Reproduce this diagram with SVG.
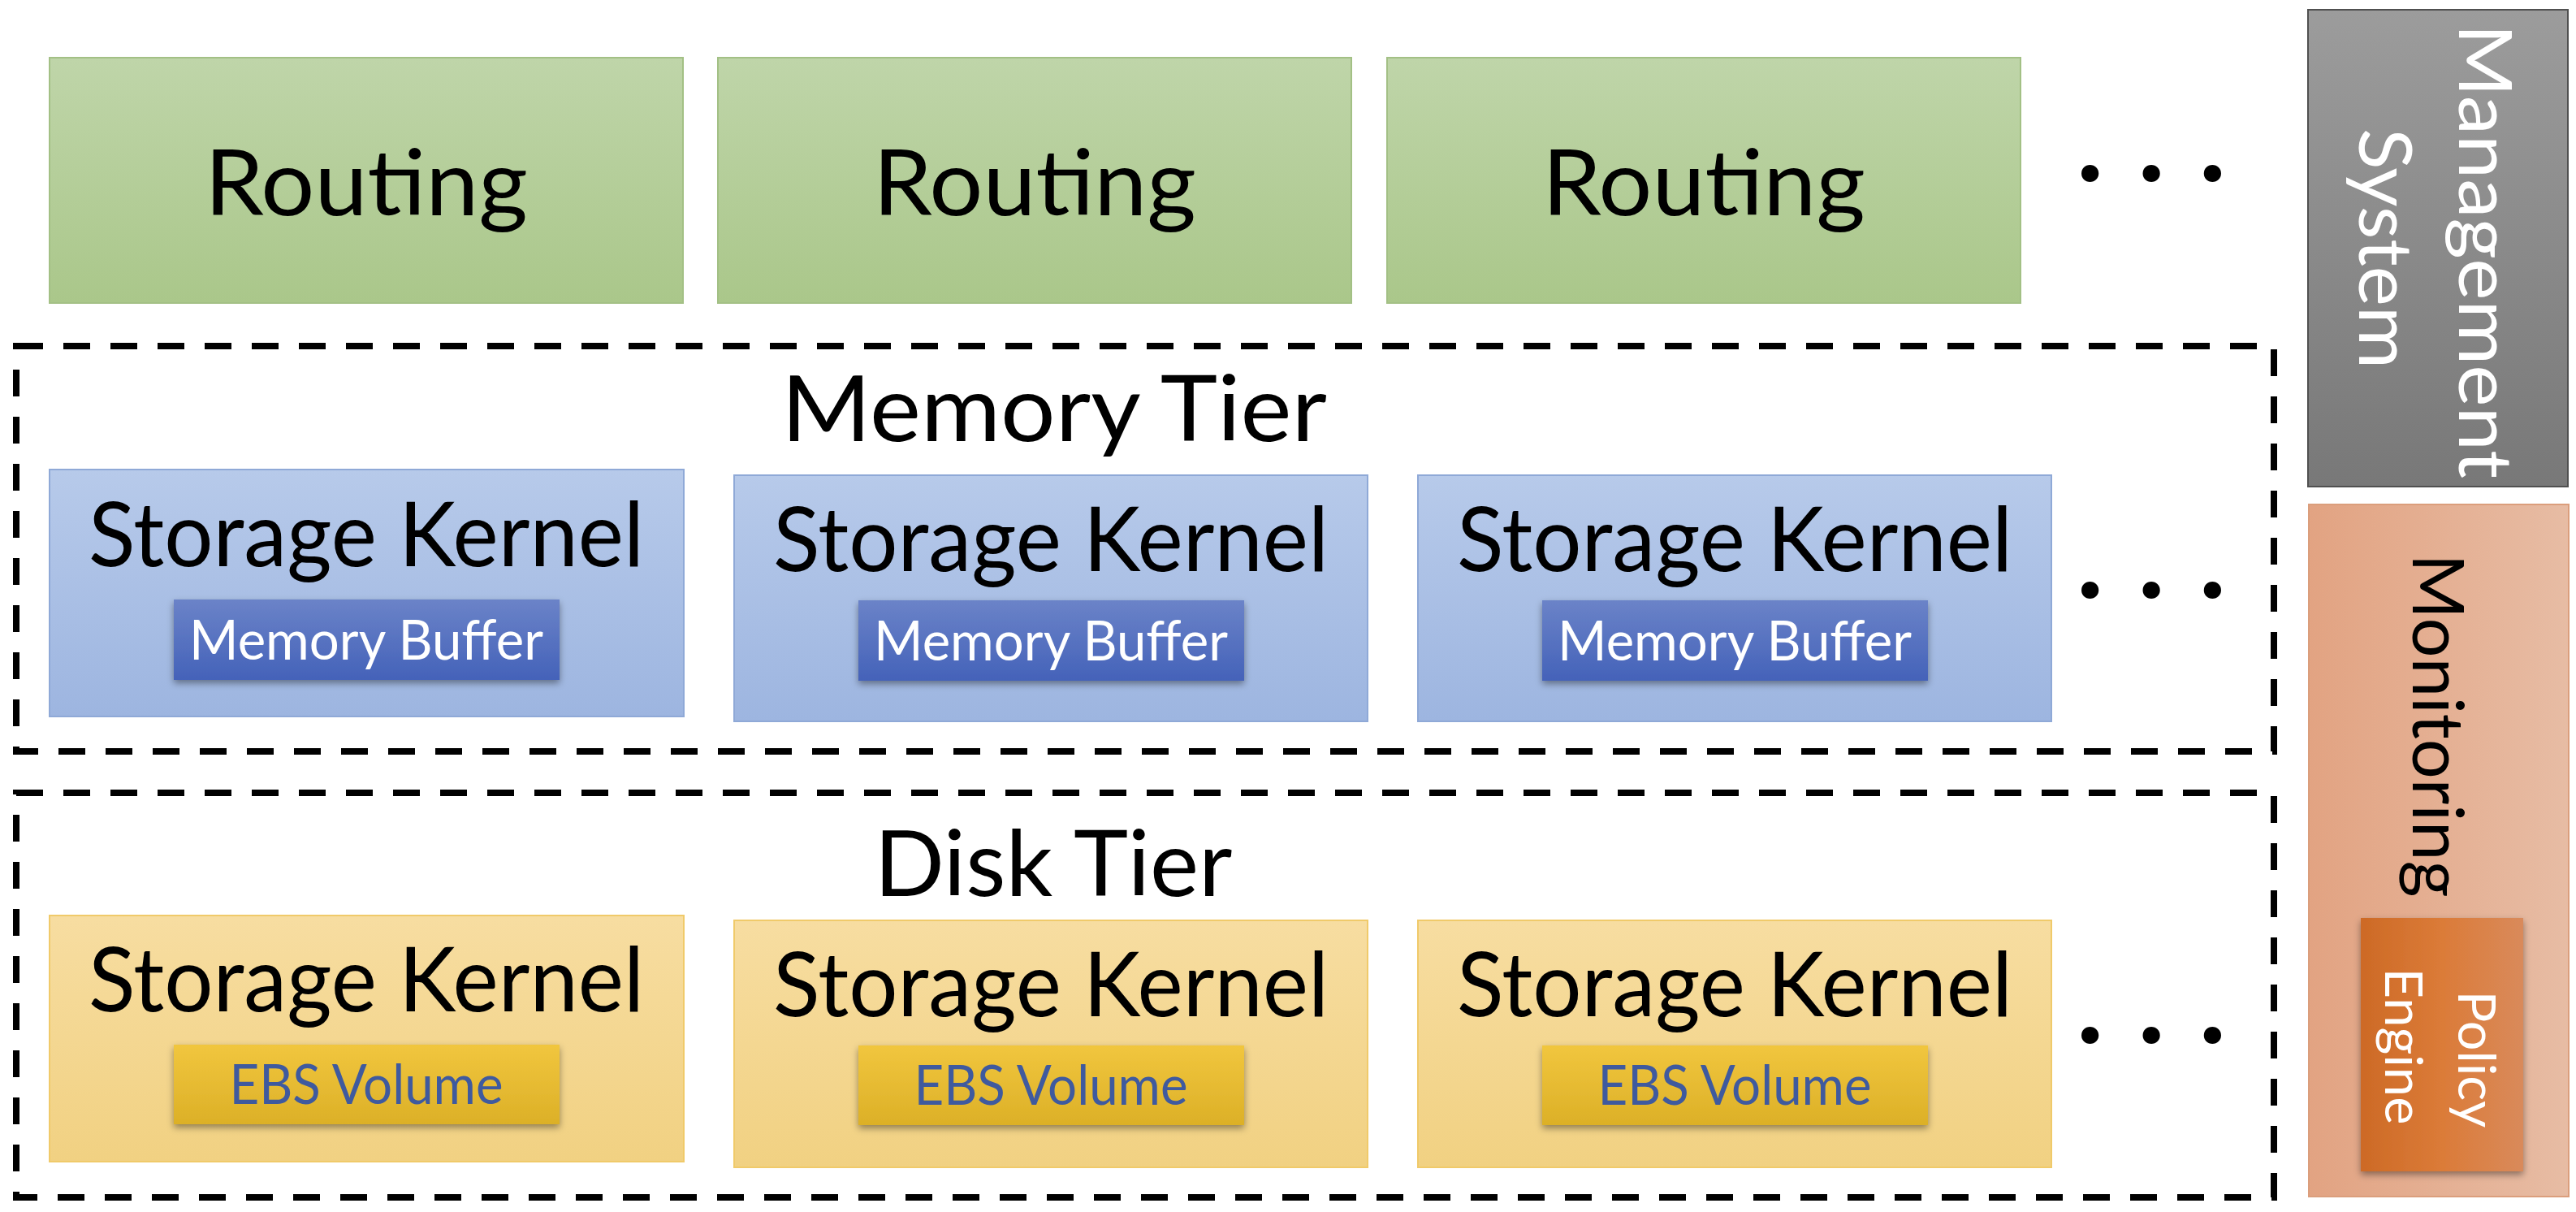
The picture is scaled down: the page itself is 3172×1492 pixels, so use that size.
<svg xmlns="http://www.w3.org/2000/svg" width="3172" height="1492" viewBox="0 0 3172 1492">
<defs>
<linearGradient id="gGreen" x1="0" y1="0" x2="0" y2="1"><stop offset="0" stop-color="#BFD5A9"/><stop offset="1" stop-color="#AAC78A"/></linearGradient>
<linearGradient id="gBlue" x1="0" y1="0" x2="0" y2="1"><stop offset="0" stop-color="#B7CAEA"/><stop offset="1" stop-color="#9DB5E0"/></linearGradient>
<linearGradient id="gBuf" x1="0" y1="0" x2="0" y2="1"><stop offset="0" stop-color="#6B83C8"/><stop offset="1" stop-color="#4462B9"/></linearGradient>
<linearGradient id="gYel" x1="0" y1="0" x2="0" y2="1"><stop offset="0" stop-color="#F7DDA1"/><stop offset="1" stop-color="#F1D182"/></linearGradient>
<linearGradient id="gEbs" x1="0" y1="0" x2="0" y2="1"><stop offset="0" stop-color="#F1C63E"/><stop offset="1" stop-color="#DCB027"/></linearGradient>
<linearGradient id="gGray" x1="0" y1="0" x2="0" y2="1"><stop offset="0" stop-color="#9C9C9C"/><stop offset="1" stop-color="#787878"/></linearGradient>
<linearGradient id="gMon" x1="0" y1="0" x2="1" y2="0"><stop offset="0" stop-color="#E2A382"/><stop offset="1" stop-color="#E7BCA4"/></linearGradient>
<linearGradient id="gPol" x1="0" y1="0" x2="1" y2="0"><stop offset="0" stop-color="#CD6A26"/><stop offset="0.5" stop-color="#DB7B38"/><stop offset="1" stop-color="#D98A5B"/></linearGradient>
<filter id="shadow" x="-10%" y="-10%" width="120%" height="130%"><feDropShadow dx="0" dy="4" stdDeviation="4" flood-color="#000" flood-opacity="0.4"/></filter>
<style>
.t{font-family:Lato,"Open Sans","Liberation Sans",sans-serif;}
.big{font-size:113px;fill:#000;text-anchor:middle;}
.sk{font-size:110px;fill:#000;text-anchor:middle;}
.small{font-size:68px;text-anchor:middle;}
.route{fill:url(#gGreen);stroke:#A3C085;stroke-width:2;}
.mk{fill:url(#gBlue);stroke:#8FA9D7;stroke-width:2;}
.dk{fill:url(#gYel);stroke:#F0CA6A;stroke-width:2;}
.buf{fill:url(#gBuf);filter:url(#shadow);}
.ebs{fill:url(#gEbs);filter:url(#shadow);}
.tier{fill:none;stroke:#000;stroke-width:8;stroke-dasharray:33 25;}
.dots{font-size:140px;font-weight:bold;fill:#000;text-anchor:middle;}
</style>
</defs>
<rect width="3172" height="1492" fill="#FFFFFF"/>

<g id="routing-1"><rect class="route" x="61" y="71" width="780" height="302"/><text class="t big" x="451" y="265" textLength="398" lengthAdjust="spacingAndGlyphs">Routing</text></g>
<g id="routing-2"><rect class="route" x="884" y="71" width="780" height="302"/><text class="t big" x="1274" y="265" textLength="398" lengthAdjust="spacingAndGlyphs">Routing</text></g>
<g id="routing-3"><rect class="route" x="1708" y="71" width="780" height="302"/><text class="t big" x="2098" y="265" textLength="398" lengthAdjust="spacingAndGlyphs">Routing</text></g>
<g id="routing-more"><text class="t dots" x="2649" y="223" textLength="184" lengthAdjust="spacing">...</text></g>

<g id="memory-tier">
<rect class="tier" x="20" y="426" width="2780" height="499"/>
<text class="t big" x="1298" y="543" textLength="672" lengthAdjust="spacingAndGlyphs">Memory Tier</text>
</g>
<g id="mem-kernel-1"><rect class="mk" x="61" y="578" width="781" height="304"/><text class="t sk" x="451" y="697" textLength="684" lengthAdjust="spacingAndGlyphs">Storage Kernel</text><rect class="buf" x="214" y="738" width="475" height="99"/><text class="t small" x="451" y="812" fill="#FFFFFF" textLength="436" lengthAdjust="spacingAndGlyphs">Memory Buffer</text></g>
<g id="mem-kernel-2"><rect class="mk" x="904" y="585" width="780" height="303"/><text class="t sk" x="1294" y="703" textLength="684" lengthAdjust="spacingAndGlyphs">Storage Kernel</text><rect class="buf" x="1057" y="739" width="475" height="99"/><text class="t small" x="1294" y="813" fill="#FFFFFF" textLength="436" lengthAdjust="spacingAndGlyphs">Memory Buffer</text></g>
<g id="mem-kernel-3"><rect class="mk" x="1746" y="585" width="780" height="303"/><text class="t sk" x="2136" y="703" textLength="684" lengthAdjust="spacingAndGlyphs">Storage Kernel</text><rect class="buf" x="1899" y="739" width="475" height="99"/><text class="t small" x="2136" y="813" fill="#FFFFFF" textLength="436" lengthAdjust="spacingAndGlyphs">Memory Buffer</text></g>
<g id="mem-more"><text class="t dots" x="2649" y="736" textLength="184" lengthAdjust="spacing">...</text></g>

<g id="disk-tier">
<rect class="tier" x="20" y="976" width="2780" height="498"/>
<text class="t big" x="1297" y="1103" textLength="441" lengthAdjust="spacingAndGlyphs">Disk Tier</text>
</g>
<g id="disk-kernel-1"><rect class="dk" x="61" y="1127" width="781" height="303"/><text class="t sk" x="451" y="1245" textLength="684" lengthAdjust="spacingAndGlyphs">Storage Kernel</text><rect class="ebs" x="214" y="1286" width="475" height="98"/><text class="t small" x="451" y="1359" fill="#3F5A9E" textLength="337" lengthAdjust="spacingAndGlyphs">EBS Volume</text></g>
<g id="disk-kernel-2"><rect class="dk" x="904" y="1133" width="780" height="304"/><text class="t sk" x="1294" y="1251" textLength="684" lengthAdjust="spacingAndGlyphs">Storage Kernel</text><rect class="ebs" x="1057" y="1287" width="475" height="98"/><text class="t small" x="1294" y="1360" fill="#3F5A9E" textLength="337" lengthAdjust="spacingAndGlyphs">EBS Volume</text></g>
<g id="disk-kernel-3"><rect class="dk" x="1746" y="1133" width="780" height="304"/><text class="t sk" x="2136" y="1251" textLength="684" lengthAdjust="spacingAndGlyphs">Storage Kernel</text><rect class="ebs" x="1899" y="1287" width="475" height="98"/><text class="t small" x="2136" y="1360" fill="#3F5A9E" textLength="337" lengthAdjust="spacingAndGlyphs">EBS Volume</text></g>
<g id="disk-more"><text class="t dots" x="2649" y="1284" textLength="184" lengthAdjust="spacing">...</text></g>

<g id="management-system">
<rect x="2842" y="12" width="320" height="587" fill="url(#gGray)" stroke="#505050" stroke-width="2"/>
<text class="t" transform="translate(3028,309) rotate(90)" x="0" y="0" font-size="92" fill="#FFFFFF" text-anchor="middle" textLength="560" lengthAdjust="spacingAndGlyphs">Management</text>
<text class="t" transform="translate(2905,306) rotate(90)" x="0" y="0" font-size="92" fill="#FFFFFF" text-anchor="middle" textLength="296" lengthAdjust="spacingAndGlyphs">System</text>
</g>
<g id="monitoring">
<rect x="2843" y="621" width="320" height="852" fill="url(#gMon)" stroke="#DB9E7C" stroke-width="2"/>
<text class="t" transform="translate(2971,893) rotate(90)" x="0" y="0" font-size="87" fill="#000000" text-anchor="middle" textLength="423" lengthAdjust="spacingAndGlyphs">Monitoring</text>
</g>
<g id="policy-engine">
<rect x="2907" y="1130" width="200" height="312" fill="url(#gPol)" filter="url(#shadow)"/>
<text class="t" transform="translate(3027,1304) rotate(90)" x="0" y="0" font-size="64" fill="#FFFFFF" text-anchor="middle" textLength="169" lengthAdjust="spacingAndGlyphs">Policy</text>
<text class="t" transform="translate(2937,1288) rotate(90)" x="0" y="0" font-size="64" fill="#FFFFFF" text-anchor="middle" textLength="193" lengthAdjust="spacingAndGlyphs">Engine</text>
</g>
<g id="connectors"></g>
</svg>
